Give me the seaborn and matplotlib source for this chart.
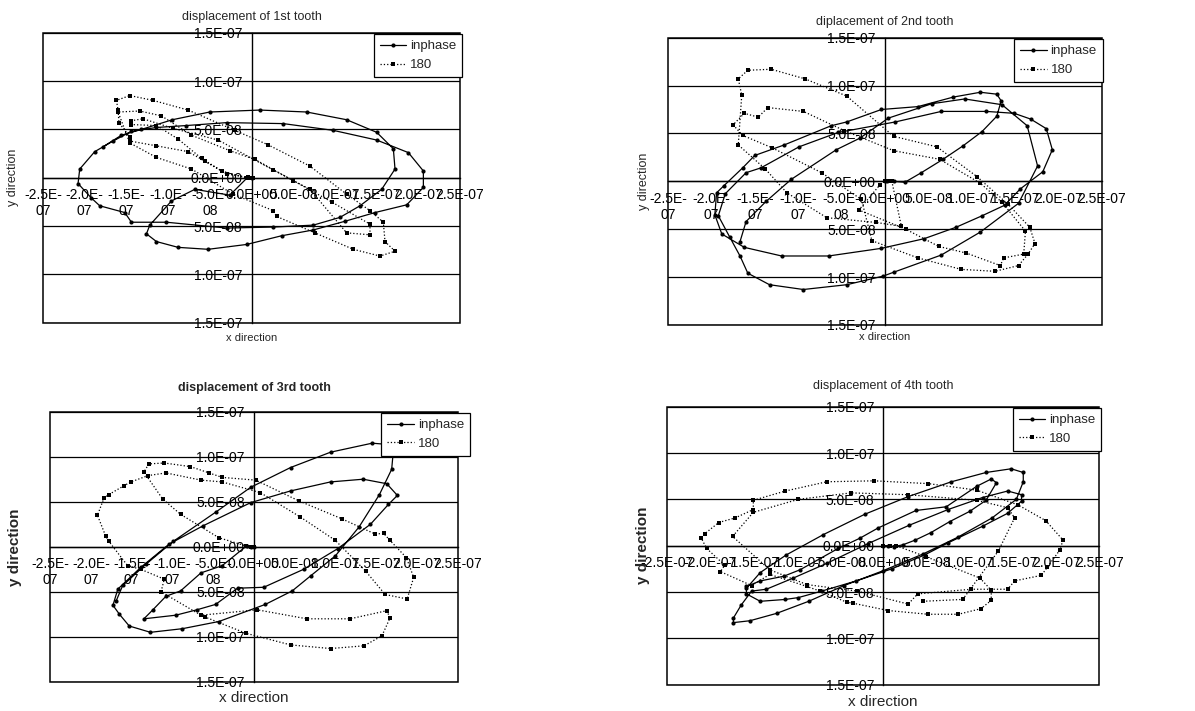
import numpy as np
import matplotlib
matplotlib.use("Agg")
import matplotlib.pyplot as plt
import seaborn as sns
from matplotlib.patches import Rectangle

# tooth displacement, values in units of 1E-08
UNIT = 1e-8

# 1st tooth
t1_in_x = [0, -0.4, -2.6, -6.8, -9.6, -12.2, -12.6, -11.4,
           -8.8, -5.2, -0.6, 3.6, 7.4, 11.2, 14.8, 18.6,
           20.6, 20.6, 18.8, 15.0, 9.8, 3.8, -3.0, -7.8,
           -11.4, -14.4, -16.6, -18.8, -20.6, -20.8, -19.2, -18.2,
           -15.2, -14.4, -10.2, -3.0, 2.6, 7.4, 10.6, 13.0,
           15.6, 17.2, 17.0, 15.0, 11.4, 6.6, 1.0, -5.0,
           -9.5, -13.2, -15.6, -17.8]
t1_in_y = [0, 0.1, -1.8, -1.2, -2.4, -4.9, -5.8, -6.6,
           -7.2, -7.4, -6.9, -6.0, -5.4, -4.5, -3.6, -2.8,
           -1.0, 0.7, 2.6, 3.9, 4.9, 5.6, 5.7, 5.4,
           5.2, 4.8, 3.8, 2.7, 0.9, -0.6, -2.1, -2.9,
           -3.6, -4.6, -4.6, -5.2, -5.1, -4.9, -4.1, -2.9,
           -1.2, 0.9, 3.0, 4.7, 6.0, 6.8, 7.0, 6.8,
           6.0, 5.0, 4.4, 3.2]
t1_op_x = [0, 0.2, -0.4, -0.6, -3.6, -5.6, -7.6, -11.4,
           -14.6, -14.6, -15.9, -16.0, -16.2, -14.6, -11.8, -7.6,
           -2.0, 2.0, 7.0, 11.4, 14.2, 15.8, 16.0, 17.2,
           15.4, 12.2, 7.6, 3.0, 2.6, -2.2, -7.2, -11.4,
           -14.6, -16.0, -13.4, -10.8, -7.2, -2.6, 0.4, 5.0,
           9.6, 14.2, 14.2, 11.4, 7.0, 2.6, -4.0, -9.4,
           -13.0, -14.4, -14.4, -11.4, -8.8, -6.0, -3.0, -0.3]
t1_op_y = [0, 0, 0.1, 0, 0.7, 1.7, 2.7, 3.3,
           3.8, 4.2, 5.7, 7.0, 8.0, 8.5, 8.0, 7.0,
           4.9, 3.4, 1.2, -1.7, -3.4, -4.6, -6.6, -7.6,
           -8.1, -7.4, -5.7, -4.0, -3.4, -1.7, 0.9, 2.1,
           3.6, 6.8, 6.9, 6.4, 4.4, 2.8, 1.9, -0.3,
           -2.5, -4.8, -5.9, -5.7, -1.2, 0.8, 3.9, 5.1,
           6.1, 5.9, 5.5, 5.4, 4.0, 2.0, 0.4, 0.0]

# 2nd tooth
t2_in_x = [0, 0.2, 1.0, 2.3, 4.2, 6.7, 9.0, 11.2,
           12.9, 13.4, 12.9, 11.0, 7.9, 3.8, -0.4, -4.4,
           -6.2, -11.6, -15.0, -16.4, -18.6, -19.4, -19.6, -18.8,
           -16.2, -11.9, -6.5, -0.4, 4.5, 8.2, 11.2, 13.8,
           15.6, 18.2, 19.3, 18.6, 16.8, 14.9, 11.7, 6.5,
           1.2, -5.4, -9.9, -14.3, -16.0, -18.4, -19.2, -17.9,
           -16.7, -15.8, -13.3, -9.4, -4.4, -0.2, 1.0, 6.5,
           11.0, 15.4, 17.6, 16.4, 13.5, 9.2, 5.4, 0.4,
           -2.9, -5.6, -10.8, -13.7, -16.0, -16.7]
t2_in_y = [0, 0, 0, -0.1, 0.9, 2.3, 3.7, 5.2,
           6.8, 8.4, 9.1, 9.3, 8.8, 7.8, 7.5, 6.2,
           5.8, 3.8, 2.7, 1.4, -0.5, -1.2, -3.5, -5.5,
           -6.9, -7.8, -7.8, -7.0, -6.0, -4.8, -3.6, -2.5,
           -0.8, 1.0, 3.3, 5.5, 6.5, 7.1, 7.3, 7.3,
           6.2, 5.1, 3.6, 1.4, 0.9, -1.3, -3.6, -5.8,
           -7.8, -9.6, -10.8, -11.3, -10.8, -9.9, -9.5, -7.7,
           -5.3, -2.3, 1.6, 5.8, 8.0, 8.6, 8.1, 6.6,
           4.5, 3.3, 0.2, -2.1, -4.2, -6.3]
t2_op_x = [0, 0.3, 0.8, 1.9, -1.0, -6.7, -11.3, -13.8,
           -16.9, -16.5, -16.9, -15.8, -13.1, -9.2, -4.4, 1.0,
           6.0, 10.6, 14.2, 16.7, 17.3, 16.5, 15.4, 12.7,
           8.8, 3.8, -1.5, -2.7, -7.3, -13.0, -16.4, -17.5,
           -16.2, -14.6, -13.5, -9.4, -4.7, 1.0, 6.3, 11.0,
           13.5, 16.2, 16.0, 13.7, 13.3, 9.4, 6.2, 2.4,
           -3.0, -0.6]
t2_op_y = [0, 0, 0, -4.7, -4.3, -3.8, -1.2, 1.3,
           3.8, 9.0, 10.7, 11.6, 11.7, 10.7, 8.9, 4.7,
           3.6, 0.5, -2.4, -4.8, -6.5, -7.6, -8.8, -9.4,
           -9.2, -8.0, -6.2, -1.9, 0.9, 3.5, 4.8, 5.9,
           7.1, 6.7, 7.7, 7.3, 5.3, 3.2, 2.3, -0.2,
           -2.2, -5.2, -7.6, -8.0, -8.8, -7.5, -6.8, -5.0,
           -3.0, -0.4]

# 3rd tooth
t3_in_x = [0, -0.4, -0.9, -3.9, -6.5, -9.0, -10.8, -12.4,
           -13.5, -9.6, -7.0, -4.7, -2.0, 1.2, 6.1, 10.3,
           14.3, 16.5, 17.6, 16.3, 13.4, 9.4, 4.5, -0.4,
           -6.3, -10.4, -13.9, -16.7, -17.3, -16.5, -15.3, -12.7,
           -8.8, -4.3, 1.4, 4.7, 7.0, 10.0, 12.9, 15.4,
           16.9, 17.1, 15.9, 14.5, 9.4, 4.5, -0.4, -4.6,
           -9.9, -13.2, -16.1, -16.9]
t3_in_y = [0, 0, 0.1, -2.1, -2.9, -4.9, -5.5, -7.0,
           -8.0, -7.6, -7.0, -6.4, -4.6, -4.5, -2.5, -0.2,
           2.5, 4.7, 5.7, 7.0, 7.5, 7.2, 6.2, 4.9,
           2.3, 0.3, -2.3, -4.7, -6.5, -7.5, -8.8, -9.5,
           -9.1, -8.3, -6.4, -4.9, -3.2, -1.0, 2.2, 5.8,
           8.6, 10.6, 11.4, 11.5, 10.5, 8.8, 6.6, 3.9,
           0.6, -1.9, -4.3, -6.0]
t3_op_x = [0, -0.4, -1.0, -4.3, -9.0, -11.2, -13.5, -12.9,
           -11.0, -7.8, -5.5, -3.9, 0.2, 5.5, 10.8, 14.9,
           15.9, 16.7, 18.7, 19.6, 18.8, 16.1, 13.7, 10.0,
           5.7, 0.8, -3.9, -6.5, -10.8, -13.0, -15.1, -15.9,
           -17.8, -18.4, -19.2, -18.2, -17.8, -15.5, -13.9, -11.0,
           -11.4, -6.5, 0.4, 6.5, 11.8, 16.3, 16.7, 15.7,
           13.5, 9.4, 4.5, -1.0, -6.0]
t3_op_y = [0, 0, 0.1, 1.0, 3.6, 5.3, 8.3, 9.2,
           9.3, 8.9, 8.2, 7.7, 7.4, 5.1, 3.1, 1.4,
           1.5, 0.7, -1.2, -3.4, -5.8, -5.3, -2.7, 0.7,
           3.3, 6.0, 7.2, 7.4, 8.2, 7.9, 7.2, 6.8,
           5.8, 5.4, 3.5, 1.2, 0.6, -2.1, -2.5, -3.6,
           -5.0, -7.6, -7.0, -8.0, -8.0, -7.1, -7.9, -9.9,
           -11.0, -11.3, -10.9, -9.6, -7.8]

# 4th tooth
t4_in_x = [0, 0.6, 1.3, 2.3, 3.7, 5.5, 7.7, 10.0,
           11.9, 13.1, 12.5, 10.8, 7.3, 3.8, -0.6, -2.7,
           -5.2, -9.6, -11.5, -14.2, -15.8, -15.8, -14.2, -11.3,
           -9.8, -7.1, -3.1, 1.0, 4.8, 7.5, 11.5, 14.4,
           16.0, 16.0, 14.4, 11.5, 7.5, 3.0, -1.8, -6.5,
           -10.4, -13.5, -15.2, -16.4, -17.3, -17.3, -15.4, -12.3,
           -8.6, -4.5, 0.0, 4.6, 8.6, 12.6, 15.4, 16.2,
           16.2, 14.8, 11.9, 7.9, 2.9, -2.1, -6.9, -11.2,
           -14.2, -15.8]
t4_in_y = [0, 0, -0.1, 0.1, 0.6, 1.4, 2.6, 3.7,
           4.9, 6.8, 7.2, 6.4, 4.2, 3.8, 1.9, 0.8,
           -0.3, -2.6, -3.3, -3.8, -4.4, -5.2, -6.0, -5.8,
           -5.6, -4.9, -3.8, -2.5, -1.0, 0.3, 2.1, 3.5,
           4.8, 5.5, 5.9, 5.2, 3.9, 2.2, 0.2, -1.9,
           -3.5, -4.7, -4.9, -6.4, -7.8, -8.3, -8.1, -7.3,
           -6.0, -4.3, -2.7, -0.9, 0.9, 3.0, 5.0, 6.9,
           7.9, 8.3, 7.9, 6.9, 5.3, 3.4, 1.2, -1.0,
           -2.9, -4.6]
t4_op_x = [0, 0.8, 1.5, 5.0, 11.2, 12.5, 12.5, 11.3,
           8.7, 5.2, 0.6, -3.5, -4.2, -7.3, -8.8, -13.1,
           -15.2, -18.8, -18.3, -20.4, -21.0, -20.6, -19.0, -17.1,
           -15.0, -15.0, -11.3, -6.5, -1.0, 5.2, 10.8, 15.6,
           18.8, 20.8, 20.4, 19.0, 18.3, 15.2, 14.4, 10.2,
           4.0, 2.9, -3.0, -8.8, -13.1, -17.4, -15.0, -9.8,
           -3.7, 2.9, 10.8, 14.4, 15.2, 13.3, 9.2, 4.6]
t4_op_y = [0, 0, 0, -1.2, -3.5, -4.8, -5.9, -6.8,
           -7.4, -7.4, -7.0, -6.2, -6.1, -4.9, -4.4, -3.1,
           -4.3, -2.8, -2.1, -0.3, 0.8, 1.3, 2.5, 3.0,
           3.9, 4.9, 5.9, 6.9, 7.0, 6.7, 6.0, 4.4,
           2.7, 0.6, -0.5, -2.3, -3.2, -3.8, -4.7, -4.7,
           -5.2, -6.3, -4.9, -4.2, -2.6, 1.0, 3.6, 5.0,
           5.7, 5.5, 4.9, 4.1, 3.0, -0.6, -5.8, -6.0]

titles = ["displacement of 1st tooth", "diplacement of 2nd tooth",
          "displacement of 3rd tooth", "displacement of 4th tooth"]
x_ticks = [-25, -20, -15, -10, -5, 0, 5, 10, 15, 20, 25]
y_ticks = [-15, -10, -5, 0, 5, 10, 15]
x_labels_wrapped = ["-2.5E-\n07", "-2.0E-\n07", "-1.5E-\n07", "-1.0E-\n07", "-5.0E-\n08",
                    "0.0E+00", "5.0E-08", "1.0E-07", "1.5E-07", "2.0E-07", "2.5E-07"]
x_labels_flat = ["-2.5E-07", "-2.0E-07", "-1.5E-07", "-1.0E-07", "-5.0E-08",
                 "0.0E+00", "5.0E-08", "1.0E-07", "1.5E-07", "2.0E-07", "2.5E-07"]
y_labels = ["1.5E-07", "1.0E-07", "5.0E-08", "0.0E+00", "5.0E-08", "1.0E-07", "1.5E-07"]

sns.set_style("white")
plt.rcParams['font.family'] = ['Liberation Sans', 'DejaVu Sans']

fig = plt.figure(figsize=(11.95, 7.11), dpi=100)

panels = [
    dict(rect=[0.036, 0.546, 0.349, 0.408], data=(t1_in_x, t1_in_y, t1_op_x, t1_op_y),
         xl=x_labels_wrapped, tick_fs=5.5, tpad=9, big=False, ylx=-0.072, xly=-0.052, legx=1.005),
    dict(rect=[0.559, 0.543, 0.363, 0.404], data=(t2_in_x, t2_in_y, t2_op_x, t2_op_y),
         xl=x_labels_wrapped, tick_fs=5.5, tpad=9, big=False, ylx=-0.055, xly=-0.042, legx=1.002),
    dict(rect=[0.042, 0.041, 0.341, 0.380], data=(t3_in_x, t3_in_y, t3_op_x, t3_op_y),
         xl=x_labels_wrapped, tick_fs=5.5, tpad=15, big=True, ylx=-0.086, xly=-0.06, legx=1.03),
    dict(rect=[0.558, 0.037, 0.362, 0.391], data=(t4_in_x, t4_in_y, t4_op_x, t4_op_y),
         xl=x_labels_flat, tick_fs=4.6, tpad=13, big=True, ylx=-0.055, xly=-0.061, legx=1.004),
]

for title, p in zip(titles, panels):
    ax = fig.add_axes(p['rect'])
    in_x, in_y, op_x, op_y = p['data']

    sns.lineplot(x=np.array(in_x) * UNIT, y=np.array(in_y) * UNIT, sort=False, estimator=None,
                 ax=ax, color='black', linewidth=0.9, marker='o', markersize=3,
                 markeredgecolor='black', markeredgewidth=0, label='inphase')
    sns.lineplot(x=np.array(op_x) * UNIT, y=np.array(op_y) * UNIT, sort=False, estimator=None,
                 ax=ax, color='black', linewidth=0.9, linestyle=':', marker='s', markersize=3.3,
                 markeredgecolor='black', markeredgewidth=0, label='180')

    ax.set_xlim(-25 * UNIT, 25 * UNIT)
    ax.set_ylim(-15 * UNIT, 15 * UNIT)
    ax.set_xticks(np.array(x_ticks) * UNIT)
    ax.set_xticklabels(p['xl'], fontsize=p['tick_fs'], linespacing=0.95)
    ax.set_yticks(np.array(y_ticks) * UNIT)
    ax.set_yticklabels(y_labels, fontsize=5.8)
    ax.tick_params(axis='x', length=2.5, width=0.8, pad=5, colors='black')
    ax.tick_params(axis='y', length=2.5, width=0.8, pad=4, colors='black')

    # axes cross at zero like the spreadsheet chart
    ax.spines['left'].set_position(('data', 0))
    ax.spines['bottom'].set_position(('data', 0))
    ax.spines['top'].set_visible(False)
    ax.spines['right'].set_visible(False)
    for s in ('left', 'bottom'):
        ax.spines[s].set_color('black')
        ax.spines[s].set_linewidth(1)
    ax.add_patch(Rectangle((0, 0), 1, 1, transform=ax.transAxes, fill=False,
                           edgecolor='black', linewidth=1.1, clip_on=False, zorder=5))
    ax.yaxis.grid(True, color='black', linewidth=0.9)
    ax.xaxis.grid(False)
    ax.set_axisbelow(True)

    ax.set_title(title, fontsize=9, pad=p['tpad'],
                 fontweight='bold' if title.endswith('3rd tooth') else 'normal')
    if p['big']:
        ax.text(0.5, p['xly'], 'x direction', transform=ax.transAxes, ha='center', va='center', fontsize=11)
        ax.text(p['ylx'], 0.5, 'y direction', transform=ax.transAxes, ha='center', va='center',
                rotation=90, fontsize=11, fontweight='bold')
    else:
        ax.text(0.5, p['xly'], 'x direction', transform=ax.transAxes, ha='center', va='center', fontsize=8)
        ax.text(p['ylx'], 0.5, 'y direction', transform=ax.transAxes, ha='center', va='center',
                rotation=90, fontsize=9)

    leg = ax.legend(loc='upper right', bbox_to_anchor=(p['legx'], 0.995), borderaxespad=0,
                    frameon=True, fancybox=False, edgecolor='black', framealpha=1,
                    fontsize=9.5, handlelength=2.0, handletextpad=0.3, borderpad=0.45,
                    labelspacing=0.5)
    leg.get_frame().set_linewidth(0.9)

fig.savefig('out.png', dpi=100)
